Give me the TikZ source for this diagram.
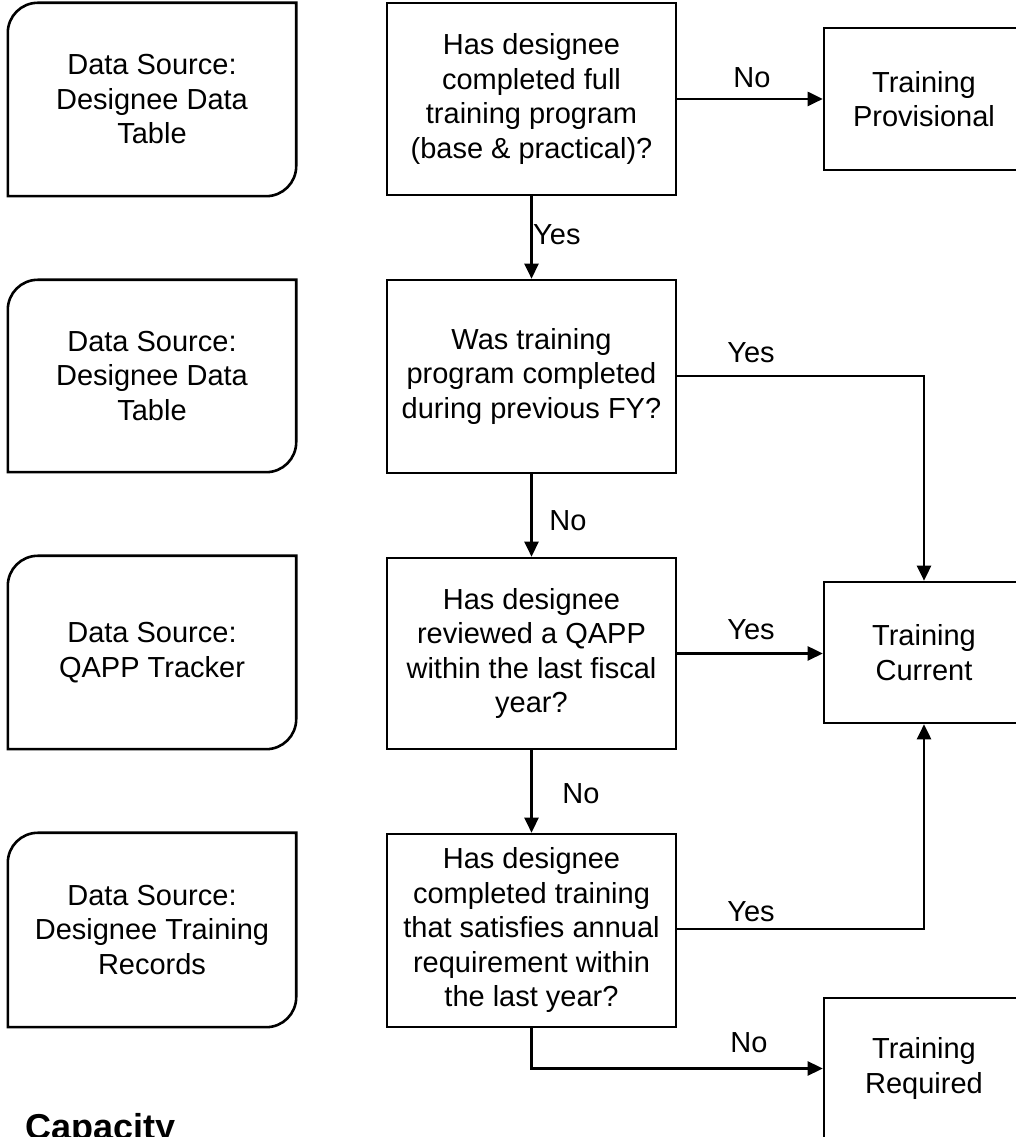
\documentclass[tikz,border=0pt]{standalone}
\usepackage{fontspec}
\setmainfont{Liberation Sans}
\usetikzlibrary{arrows.meta}
\tikzset{
  lw/.style={line width=2.6pt},
  txt/.style={font=\fontsize{29}{34.5}\selectfont, align=center, inner sep=0pt},
  dsnode/.style={txt, minimum width=288pt},
  qbox/.style={txt, draw, lw, minimum width=289pt},
  outbox/.style={txt, draw, lw, minimum width=200pt},
  conn/.style={lw, -{Triangle[length=15pt,width=14pt]}},
  lbl/.style={font=\fontsize{29}{34.5}\selectfont, inner sep=0pt},
  capt/.style={font=\fontsize{36}{40}\selectfont\bfseries, inner sep=0pt}
}
\begin{document}
\begin{tikzpicture}[x=1pt,y=1pt]
\useasboundingbox (0,0) rectangle (1016,1137);
\clip (0,0) rectangle (1016,1137);
\fill[white] (0,0) rectangle (1016,1137);

% data source nodes
\node[dsnode, minimum height=193pt] (ds1) at (152,1037.5) {Data Source:\\Designee Data\\Table};
\node[dsnode, minimum height=192pt] (ds2) at (152,761) {Data Source:\\Designee Data\\Table};
\node[dsnode, minimum height=193pt] (ds3) at (152,484.5) {Data Source:\\QAPP Tracker};
\node[dsnode, minimum height=194pt] (ds4) at (152,207) {Data Source:\\Designee Training\\Records};
\foreach \n in {ds1,ds2,ds3,ds4}{
  \draw[lw] (\n.south west) -- ([yshift=-30pt]\n.north west)
    arc[start angle=180, end angle=90, radius=30pt] -- (\n.north east)
    -- ([yshift=30pt]\n.south east)
    arc[start angle=0, end angle=-90, radius=30pt] -- cycle;
}

% question boxes
\node[qbox, minimum height=192pt] (q1) at (531.5,1038) {Has designee\\completed full\\training program\\(base \& practical)?};
\node[qbox, minimum height=193pt] (q2) at (531.5,760.5) {Was training\\program completed\\during previous FY?};
\node[qbox, minimum height=191pt] (q3) at (531.5,483.5) {Has designee\\reviewed a QAPP\\within the last fiscal\\year?};
\node[qbox, minimum height=193pt] (q4) at (531.5,206.5) {Has designee\\completed training\\that satisfies annual\\requirement within\\the last year?};

% outcome boxes
\node[outbox, minimum height=142pt] (tp) at (924,1038) {Training\\Provisional};
\node[outbox, minimum height=141pt] (tc) at (924,484.5) {Training\\Current};
\node[outbox, minimum height=141pt] (tr) at (924,68.5) {Training\\Required};

% connectors
\draw[conn] (q1.east) -- (q1.east -| tp.west);
\draw[conn] (q1.south) -- (q2.north);
\draw[conn] ([yshift=0.5pt]q2.east) -| (tc.north);
\draw[conn] (q2.south) -- (q3.north);
\draw[conn] (q3.east) -- (q3.east -| tc.west);
\draw[conn] (q3.south) -- (q4.north);
\draw[conn] ([yshift=1.5pt]q4.east) -| (tc.south);
\draw[conn] (q4.south) |- (tr.west);

% labels
\node[lbl] (l1) at (752,1059) {No};
\node[lbl, anchor=west] (l2) at (533,902) {Yes};
\node[lbl] (l3) at (751,784) {Yes};
\node[lbl] (l4) at (568,616) {No};
\node[lbl] (l5) at (751,507) {Yes};
\node[lbl] (l6) at (581,343) {No};
\node[lbl] (l7) at (751,225) {Yes};
\node[lbl] (l8) at (749,94) {No};

% caption
\node[capt, anchor=base west] (cap) at (25,-2) {Capacity};
\end{tikzpicture}
\end{document}
